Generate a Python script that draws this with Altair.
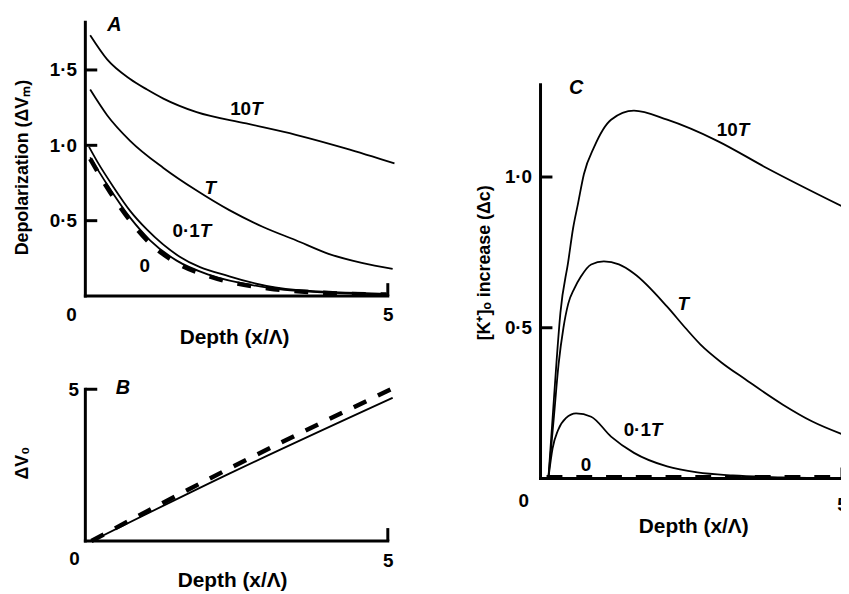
import altair as alt
import pandas as pd

FONT = "Liberation Sans"

# ---------------- Panel A : Depolarization ----------------
A_10T_x = [0.08, 0.36, 0.74, 1.02, 1.29, 1.84, 2.66, 3.48, 4.30, 5.11]
A_10T_y = [1.73, 1.57, 1.44, 1.37, 1.31, 1.22, 1.145, 1.07, 0.98, 0.88]
A_T_x = [0.08, 0.36, 0.74, 1.29, 1.84, 2.38, 2.93, 3.48, 4.02, 4.57, 5.08]
A_T_y = [1.37, 1.20, 1.03, 0.85, 0.70, 0.57, 0.46, 0.37, 0.28, 0.22, 0.18]
A_01T_x = [0.06, 0.20, 0.47, 0.74, 1.02, 1.56, 2.38, 3.48, 4.98]
A_01T_y = [0.99, 0.89, 0.72, 0.565, 0.44, 0.26, 0.13, 0.04, 0.015]
A_0_x = [0.08, 0.36, 0.74, 1.07, 1.51, 2.05, 3.03, 4.02, 4.98]
A_0_y = [0.92, 0.74, 0.52, 0.37, 0.235, 0.14, 0.055, 0.022, 0.01]
A_0d_x = [0.08, 0.36, 0.74, 1.07, 1.51, 2.05, 3.03, 4.02, 4.98]
A_0d_y = [0.91, 0.72, 0.50, 0.35, 0.22, 0.13, 0.05, 0.02, 0.01]
A_yticks = [0.5, 1.0, 1.5]
A_lab_x = [2.74, 1.97, 1.89, 1.07]
A_lab_y = [1.243, 0.717, 0.43, 0.20]
A_lab_num = ["10", "", "0·1", "0"]
A_lab_it = ["T", "T", "T", ""]

# ---------------- Panel B : Delta V0 ----------------
B_sol_x = [0.11, 2.38, 5.08]
B_sol_y = [0.0, 2.22, 4.72]
B_das_x = [0.10, 2.38, 5.16]
B_das_y = [0.0, 2.39, 5.10]
B_yticks = [5]

# ---------------- Panel C : [K+]o increase ----------------
C_10T_x = [0.13, 0.20, 0.27, 0.33, 0.46, 0.54, 0.62, 0.72, 0.89, 1.17, 1.55, 2.10, 2.93, 3.75, 5.03]
C_10T_y = [0.0, 0.20, 0.40, 0.55, 0.72, 0.83, 0.91, 1.01, 1.10, 1.19, 1.22, 1.19, 1.12, 1.03, 0.90]
C_T_x = [0.13, 0.22, 0.30, 0.38, 0.46, 0.56, 0.67, 0.84, 1.05, 1.30, 1.55, 2.10, 2.40, 2.65, 3.00, 3.39, 4.02, 4.50, 5.03]
C_T_y = [0.0, 0.20, 0.38, 0.50, 0.58, 0.63, 0.67, 0.71, 0.72, 0.71, 0.68, 0.57, 0.50, 0.445, 0.385, 0.33, 0.245, 0.19, 0.145]
C_01T_x = [0.13, 0.20, 0.29, 0.42, 0.59, 0.84, 1.17, 1.55, 2.10, 2.60, 3.19, 4.00, 5.00]
C_01T_y = [0.0, 0.10, 0.16, 0.20, 0.216, 0.205, 0.139, 0.085, 0.04, 0.02, 0.01, 0.004, 0.0]
C_0_x = [0.10, 1.0, 2.0, 3.0, 4.0, 5.0]
C_0_y = [0.004, 0.004, 0.004, 0.004, 0.004, 0.004]
C_yticks = [0.5, 1.0]
C_lab_x = [3.27, 2.27, 1.83, 0.84]
C_lab_y = [1.155, 0.58, 0.16, 0.046]
C_lab_num = ["10", "", "0·1", "0"]
C_lab_it = ["T", "T", "T", ""]

X_LABELS = [5]


def long_df(series):
    rows = []
    for name, xs, ys in series:
        for i, (a, b) in enumerate(zip(xs, ys)):
            rows.append({"s": name, "i": i, "x": a, "y": b})
    return pd.DataFrame(rows)


def panel(solid, dashed, labels, letter, letter_xy, yticks, ytop, ymax, w, h,
          ytitle, yfmt, ytx, yty, xtx, xty, xlabpad, ylabpad, zero_dx, zero_dy,
          xtick_len, dash):
    xs = alt.Scale(domain=[0, 5], nice=False, zero=False)
    ys = alt.Scale(domain=[0, ymax], nice=False, zero=False)
    if yfmt == "dot":
        lexpr = "replace(format(datum.value, '.1f'), '.', '·')"
    else:
        lexpr = "format(datum.value, 'd')"
    xaxis = alt.Axis(values=X_LABELS, format="d", domain=False, ticks=False, tickSize=0,
                     grid=False, labelPadding=xlabpad, labelFlush=False, labelAngle=0,
                     title="Depth (x/Λ)", titleX=xtx, titleY=xty, titleFontSize=21,
                     titleAlign="center", titleBaseline="middle")
    yaxis = alt.Axis(values=yticks, labelExpr=lexpr, domain=False, ticks=False, tickSize=0,
                     grid=False, labelPadding=ylabpad, labelFlush=False,
                     title=ytitle, titleX=ytx, titleY=yty, titleAngle=270, titleFontSize=18,
                     titleAlign="center", titleBaseline="middle")

    def X(f):
        return alt.X(f, scale=xs, axis=xaxis)

    def Y(f):
        return alt.Y(f, scale=ys, axis=yaxis)

    sol = alt.Chart(long_df(solid)).mark_line(color="black", strokeWidth=1.8, clip=False,
                                              interpolate="monotone").encode(
        x=X("x:Q"), y=Y("y:Q"), detail="s:N", order="i:Q")
    das = alt.Chart(long_df(dashed)).mark_line(color="black", strokeWidth=4.5, strokeDash=dash,
                                                 strokeCap="butt", clip=False,
                                                 interpolate="monotone").encode(
        x=X("x:Q"), y=Y("y:Q"), detail="s:N", order="i:Q")

    frame = pd.DataFrame({"x": [0], "y": [0], "x1": [5], "y1": [ytop]})
    yline = alt.Chart(frame).mark_rule(color="black", strokeWidth=3, strokeCap="square").encode(
        x=X("x:Q"), y=Y("y:Q"), y2="y1:Q")
    xline = alt.Chart(frame).mark_rule(color="black", strokeWidth=3, strokeCap="square").encode(
        x=X("x:Q"), x2="x1:Q", y=Y("y:Q"))
    rtick = alt.Chart(frame).mark_rule(color="black", strokeWidth=3).encode(
        x=X("x1:Q"), y=Y("y:Q"), y2=alt.value(h - xtick_len))
    ytk = alt.Chart(pd.DataFrame({"y": yticks})).mark_rule(color="black", strokeWidth=3).encode(
        y=Y("y:Q"), x=alt.value(0), x2=alt.value(12))
    zero = alt.Chart(frame).mark_text(font=FONT, fontSize=19, fontWeight="bold", color="black",
                                      dx=zero_dx, dy=zero_dy, baseline="middle").encode(
        x=X("x:Q"), y=Y("y:Q"), text=alt.value("0"))
    let = alt.Chart(pd.DataFrame({"x": [letter_xy[0]], "y": [letter_xy[1]], "t": [letter]})).mark_text(
        font=FONT, fontSize=20, fontWeight="bold", fontStyle="italic", color="black",
        baseline="middle").encode(x=X("x:Q"), y=Y("y:Q"), text="t:N")

    layers = [sol, das, yline, xline, rtick, ytk, zero, let]
    if labels is not None:
        ldf = pd.DataFrame({"x": labels[0], "y": labels[1], "num": labels[2], "it": labels[3]})
        lnum = alt.Chart(ldf).mark_text(font=FONT, fontSize=19, fontWeight="bold", color="black",
                                        align="right", baseline="middle").encode(
            x=X("x:Q"), y=Y("y:Q"), text="num:N")
        lit = alt.Chart(ldf).mark_text(font=FONT, fontSize=19, fontWeight="bold", fontStyle="italic",
                                       color="black", align="left", baseline="middle").encode(
            x=X("x:Q"), y=Y("y:Q"), text="it:N")
        layers += [lnum, lit]
    return alt.layer(*layers).properties(width=w, height=h)


A = panel(
    solid=[("10T", A_10T_x, A_10T_y), ("T", A_T_x, A_T_y), ("0.1T", A_01T_x, A_01T_y), ("0", A_0_x, A_0_y)],
    dashed=[("0d", A_0d_x, A_0d_y)],
    labels=(A_lab_x, A_lab_y, A_lab_num, A_lab_it),
    letter="A", letter_xy=(0.48, 1.80), yticks=A_yticks, ytop=1.816, ymax=1.816, w=305, h=276,
    ytitle="Depolarization (ΔVₘ)", yfmt="dot", ytx=-63, yty=146, xtx=150, xty=42,
    xlabpad=10, ylabpad=9, zero_dx=-14, zero_dy=19, xtick_len=13, dash=[14, 15])

B = panel(
    solid=[("s", B_sol_x, B_sol_y)],
    dashed=[("d", B_das_x, B_das_y)],
    labels=None,
    letter="B", letter_xy=(0.62, 5.03), yticks=B_yticks, ytop=5, ymax=5, w=305, h=153,
    ytitle="ΔV₀", yfmt="int", ytx=-63, yty=74, xtx=148, xty=40,
    xlabpad=11, ylabpad=7, zero_dx=-11, zero_dy=18, xtick_len=13, dash=[14, 13])

C = panel(
    solid=[("10T", C_10T_x, C_10T_y), ("T", C_T_x, C_T_y), ("0.1T", C_01T_x, C_01T_y)],
    dashed=[("0", C_0_x, C_0_y)],
    labels=(C_lab_x, C_lab_y, C_lab_num, C_lab_it),
    letter="C", letter_xy=(0.59, 1.296), yticks=C_yticks, ytop=1.306, ymax=1.513, w=304, h=460,
    ytitle="[K⁺]ₒ increase (Δc)", yfmt="dot", ytx=-56, yty=242, xtx=154, xty=48,
    xlabpad=17, ylabpad=9, zero_dx=-17, zero_dy=23, xtick_len=11, dash=[16, 14])

left = alt.vconcat(A, B, spacing=94, bounds="flush")
chart = alt.hconcat(left, C, spacing=70, bounds="full").properties(
    padding={"left": 6, "top": 4, "right": -10, "bottom": 0},
    background="white",
).configure_view(stroke=None).configure_axis(
    labelFont=FONT, labelFontSize=19, labelFontWeight="bold", labelColor="black",
    titleFont=FONT, titleFontSize=19, titleFontWeight="bold", titleColor="black",
)

chart.save("out.html", embed_options={"renderer": "svg", "actions": False})
